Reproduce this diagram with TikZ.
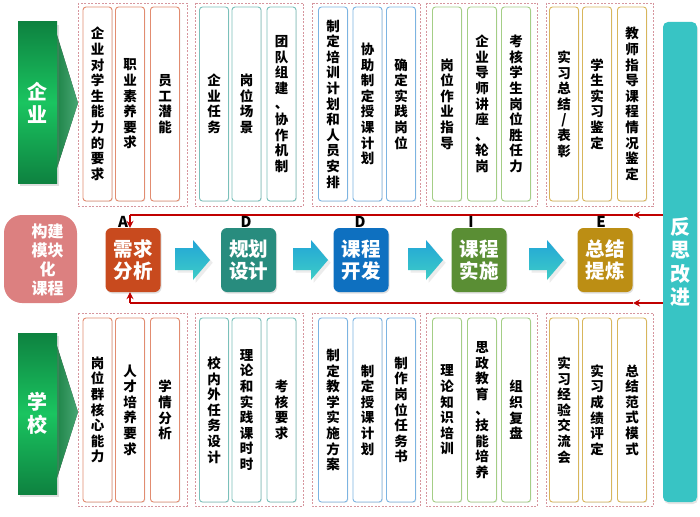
\documentclass[tikz,border=0pt]{standalone}
\usepackage{fontspec}
\setmainfont{Noto Sans CJK SC}
\usetikzlibrary{shadows,arrows.meta}
\definecolor{grpc}{RGB}{214,150,158}
\definecolor{cA}{RGB}{226,140,112}
\definecolor{cB}{RGB}{122,192,186}
\definecolor{cC}{RGB}{124,180,226}
\definecolor{cD}{RGB}{164,206,134}
\definecolor{cE}{RGB}{216,182,92}
\definecolor{pA}{RGB}{200,74,30}
\definecolor{pD}{RGB}{40,140,126}
\definecolor{pK}{RGB}{14,112,192}
\definecolor{pI}{RGB}{90,142,52}
\definecolor{pE}{RGB}{188,142,20}
\definecolor{redc}{RGB}{192,0,0}
\definecolor{arrT}{RGB}{34,165,215}
\definecolor{arrB}{RGB}{62,205,198}
\definecolor{gD}{RGB}{14,130,64}
\definecolor{gL}{RGB}{26,196,96}
\definecolor{triL}{RGB}{30,150,80}
\definecolor{triR}{RGB}{80,190,130}
\definecolor{pinkc}{RGB}{220,128,128}
\definecolor{barc}{RGB}{56,196,196}
\makeatletter
\def\vtx#1{\vtx@a#1\@nil}
\def\vtx@a#1#2\@nil{#1\ifx\relax#2\relax\else\\\vtx@a#2\@nil\fi}
\makeatother
\begin{document}
\begin{tikzpicture}[x=1pt,y=-1pt,
 grp/.style={draw=grpc, dash pattern=on 2pt off 1.5pt, line width=0.6pt},
 ibox/.style={fill=white, rounded corners=3pt, line width=0.9pt, minimum width=29pt, inner sep=0pt, align=center, font=\fontsize{13.5}{15.6}\selectfont\bfseries, text=black, drop shadow={opacity=0.18, shadow xshift=0.8pt, shadow yshift=-0.8pt}},
 ttop/.style={ibox, minimum height=194pt},
 tbot/.style={ibox, minimum height=184pt},
 proc/.style={rounded corners=6pt, minimum width=55pt, minimum height=64pt, inner sep=0pt, align=center, text=white, font=\fontsize{19.5}{22}\selectfont\bfseries, drop shadow={opacity=0.25, shadow xshift=1pt, shadow yshift=-1.5pt}},
 letter/.style={font=\fontsize{15}{15}\selectfont\bfseries, inner sep=0pt},
 redl/.style={draw=redc, line width=1.4pt},
 redtip/.style={-{Stealth[length=7pt,width=7pt,inset=2.5pt]}},
 blk/.style={top color=arrT, bottom color=arrB, drop shadow={opacity=0.15}},
 side/.style={minimum width=39pt, minimum height=161pt, inner sep=0pt, align=center, text=white, font=\fontsize{20}{23}\selectfont\bfseries, top color=gD, bottom color=gD, middle color=gL, drop shadow={opacity=0.25, shadow xshift=2pt, shadow yshift=-3pt}},
 tri/.style={left color=triL, right color=triR, opacity=0.85},
]
\useasboundingbox (0,0) rectangle (700,516);
\fill[white] (0,0) rectangle (700,516);

% group frames
\draw[grp] (78,3) rectangle (187,206);
\draw[grp] (195,3) rectangle (303,206);
\draw[grp] (312,3) rectangle (420,206);
\draw[grp] (426,3) rectangle (537,206);
\draw[grp] (546,3) rectangle (653,206);
\draw[grp] (78,313) rectangle (187,506);
\draw[grp] (195,313) rectangle (303,506);
\draw[grp] (312,313) rectangle (420,506);
\draw[grp] (426,313) rectangle (537,506);
\draw[grp] (546,313) rectangle (653,506);

% top boxes
\node[ttop, draw=cA] (t1a) at (97.5,104) {\vtx{企业对学生能力的要求}};
\node[ttop, draw=cA] (t1b) at (130,104) {\vtx{职业素养要求}};
\node[ttop, draw=cA] (t1c) at (165,104) {\vtx{员工潜能}};
\node[ttop, draw=cB] (t2a) at (214,104) {\vtx{企业任务}};
\node[ttop, draw=cB] (t2b) at (246.5,104) {\vtx{岗位场景}};
\node[ttop, draw=cB] (t2c) at (281.5,104) {\vtx{团队组建、协作机制}};
\node[ttop, draw=cC] (t3a) at (333,104) {\vtx{制定培训计划和人员安排}};
\node[ttop, draw=cC] (t3b) at (367.5,104) {\vtx{协助制定授课计划}};
\node[ttop, draw=cC] (t3c) at (401,104) {\vtx{确定实践岗位}};
\node[ttop, draw=cD] (t4a) at (447,104) {\vtx{岗位作业指导}};
\node[ttop, draw=cD] (t4b) at (482,104) {\vtx{企业导师讲座、轮岗}};
\node[ttop, draw=cD] (t4c) at (516,104) {\vtx{考核学生岗位胜任力}};
\node[ttop, draw=cE] (t5a) at (564,104) {\vtx{实习总结/表彰}};
\node[ttop, draw=cE] (t5b) at (597,104) {\vtx{学生实习鉴定}};
\node[ttop, draw=cE] (t5c) at (632,104) {\vtx{教师指导课程情况鉴定}};

% bottom boxes
\node[tbot, draw=cA] (b1a) at (97.5,410) {\vtx{岗位群核心能力}};
\node[tbot, draw=cA] (b1b) at (130,410) {\vtx{人才培养要求}};
\node[tbot, draw=cA] (b1c) at (165,410) {\vtx{学情分析}};
\node[tbot, draw=cB] (b2a) at (214,410) {\vtx{校内外任务设计}};
\node[tbot, draw=cB] (b2b) at (246.5,410) {\vtx{理论和实践课时时}};
\node[tbot, draw=cB] (b2c) at (281.5,410) {\vtx{考核要求}};
\node[tbot, draw=cC] (b3a) at (333,410) {\vtx{制定教学实施方案}};
\node[tbot, draw=cC] (b3b) at (367.5,410) {\vtx{制定授课计划}};
\node[tbot, draw=cC] (b3c) at (401,410) {\vtx{制作岗位任务书}};
\node[tbot, draw=cD] (b4a) at (447,410) {\vtx{理论知识培训}};
\node[tbot, draw=cD] (b4b) at (482,410) {\vtx{思政教育、技能培养}};
\node[tbot, draw=cD] (b4c) at (516,410) {\vtx{组织复盘}};
\node[tbot, draw=cE] (b5a) at (564,410) {\vtx{实习经验交流会}};
\node[tbot, draw=cE] (b5b) at (597,410) {\vtx{实习成绩评定}};
\node[tbot, draw=cE] (b5c) at (632,410) {\vtx{总结范式模式}};

% side labels
\fill[tri] (57,35) -- (78,103) -- (57,168) -- cycle;
\fill[tri] (57,346) -- (78,412) -- (57,478) -- cycle;
\node[side] (qy) at (37.5,102.5) {企\\业};
\node[side] (xx) at (37.5,413.5) {学\\校};

% pink label
\node[fill=pinkc, rounded corners=18pt, minimum width=73pt, minimum height=88pt, inner sep=0pt] (gj) at (40.5,259) {};
\node[text=white, align=center, inner sep=0pt, font=\fontsize{16}{19}\selectfont\bfseries] (gjt) at (47.5,260) {构建\\模块\\化\\课程};

% right bar
\node[fill=barc, rounded corners=5pt, minimum width=34pt, minimum height=480pt, inner sep=0pt, align=center, text=white, font=\fontsize{20}{23.3}\selectfont\bfseries, drop shadow={opacity=0.2, shadow xshift=1pt, shadow yshift=-2pt}] (bar) at (680,262) {反\\思\\改\\进};

% process boxes
\node[proc, fill=pA] (A) at (133,260) {需求\\分析};
\node[proc, fill=pD] (D1) at (248.5,260) {规划\\设计};
\node[proc, fill=pK] (D2) at (361,260) {课程\\开发};
\node[proc, fill=pI] (I) at (479,260) {课程\\实施};
\node[proc, fill=pE] (E) at (605,260) {总结\\提炼};

% block arrows
\foreach \x in {175,293,408,529}{
  \path[blk] (\x,248) -- (\x+18,248) -- (\x+18,240) -- (\x+35,260) -- (\x+18,280) -- (\x+18,270) -- (\x,270) -- cycle;
}

% red feedback lines
\coordinate (yT) at (0,215);
\coordinate (yB) at (0,303);
\coordinate (tipT) at (633,215);
\coordinate (tipB) at (633,303);
\coordinate (cT) at (130,215);
\coordinate (cB) at (130,303);
\draw[redl,redtip] (bar.west |- yT) -- (tipT);
\draw[redl] (tipT) -- (cT);
\draw[redl,redtip] (cT) -- (cT |- A.north);
\draw[redl,redtip] (bar.west |- yB) -- (tipB);
\draw[redl] (tipB) -- (cB);
\draw[redl,redtip] (cB) -- (cB |- A.south);

% letters
\node[letter] (lA) at (123,222) {A};
\node[letter] (lD1) at (246,222) {D};
\node[letter] (lD2) at (360,222) {D};
\node[letter] (lI) at (471,222) {I};
\node[letter] (lE) at (601,222) {E};
\end{tikzpicture}
\end{document}
